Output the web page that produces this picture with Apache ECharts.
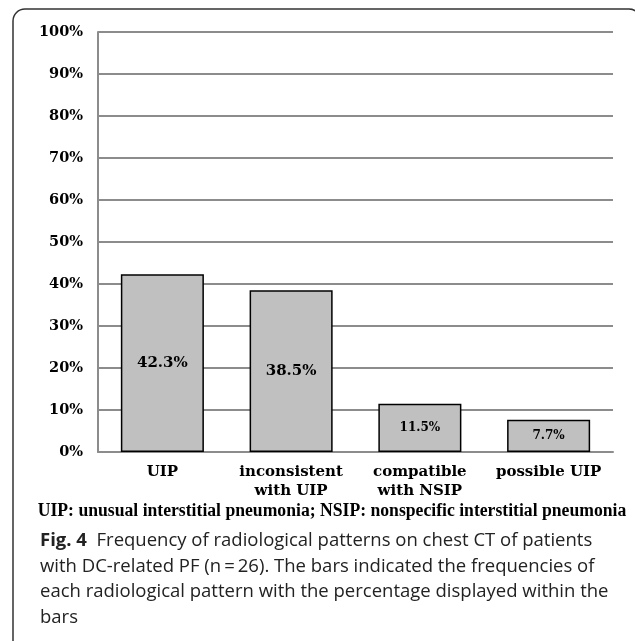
<!DOCTYPE html>
<html>
<head>
<meta charset="utf-8">
<script src="https://cdn.jsdelivr.net/npm/echarts@6/dist/echarts.min.js"></script>
<style>
  html, body { margin: 0; padding: 0; background: #fff; }
  #chart { width: 635px; height: 641px; }
</style>
</head>
<body>
<div id="chart"></div>
<script>
// Radiological patterns on chest CT and their share of patients
const categories = ['UIP', 'inconsistent\nwith UIP', 'compatible\nwith NSIP', 'possible UIP'];
const percentages = [42.3, 38.5, 11.5, 7.7];
const yTicks = [0, 10, 20, 30, 40, 50, 60, 70, 80, 90, 100];

const footnote = 'UIP: unusual interstitial pneumonia; NSIP: nonspecific interstitial pneumonia';
const captionLines = [
  'Frequency of radiological patterns on chest CT of patients',
  'with DC-related PF (n\u2009=\u200926). The bars indicated the frequencies of',
  'each radiological pattern with the percentage displayed within the',
  'bars'
];

const serif = '"DejaVu Serif", "Liberation Serif", serif';
const sans = '"Open Sans", "Noto Sans", sans-serif';

const chart = echarts.init(document.getElementById('chart'), null, { renderer: 'canvas' });

const barData = percentages.map(v => ({
  value: v,
  label: { fontSize: v >= 20 ? 15 : 12 }
}));

const graphics = [
  {
    type: 'rect',
    shape: { x: 13, y: 9, width: 628, height: 650, r: 12 },
    style: { fill: 'none', stroke: '#333', lineWidth: 1.5 },
    silent: true
  },
  {
    type: 'text',
    x: 332, y: 511,
    scaleX: 0.98,
    style: {
      text: footnote,
      font: 'bold 18px "Liberation Serif", serif',
      fill: '#000',
      align: 'center',
      verticalAlign: 'middle'
    }
  }
];

captionLines.forEach((line, i) => {
  graphics.push({
    type: 'text',
    x: 40, y: 541 + i * 25.5,
    style: {
      text: i === 0 ? '{b|Fig. 4}  ' + line : line,
      font: '18.5px ' + sans,
      fill: '#222',
      verticalAlign: 'middle',
      rich: {
        b: { font: 'bold 18.5px ' + sans, fill: '#222' }
      }
    }
  });
});

chart.setOption({
  animation: false,
  grid: { left: 98, right: 22, top: 32, bottom: 189 },
  xAxis: {
    type: 'category',
    data: categories,
    axisLine: { lineStyle: { color: '#8c8c8c', width: 2 } },
    axisTick: { show: false },
    axisLabel: {
      color: '#000',
      fontFamily: serif,
      fontWeight: 'bold',
      fontSize: 15,
      lineHeight: 19,
      margin: 11,
      interval: 0
    }
  },
  yAxis: {
    type: 'value',
    min: yTicks[0],
    max: yTicks[yTicks.length - 1],
    interval: 10,
    axisLine: { show: true, lineStyle: { color: '#8c8c8c', width: 2 } },
    axisTick: { show: false },
    splitLine: { lineStyle: { color: '#8c8c8c', width: 2 } },
    axisLabel: {
      color: '#000',
      fontFamily: serif,
      fontWeight: 'bold',
      fontSize: 14.5,
      margin: 15,
      formatter: v => v + '%'
    }
  },
  series: [{
    type: 'bar',
    data: barData,
    barWidth: '64.5%',
    itemStyle: { color: '#c0c0c0', borderColor: '#000', borderWidth: 1.5 },
    label: {
      show: true,
      position: 'inside',
      color: '#000',
      fontFamily: serif,
      fontWeight: 'bold',
      formatter: p => p.value.toFixed(1) + '%'
    }
  }],
  graphic: graphics
});
</script>
</body>
</html>
